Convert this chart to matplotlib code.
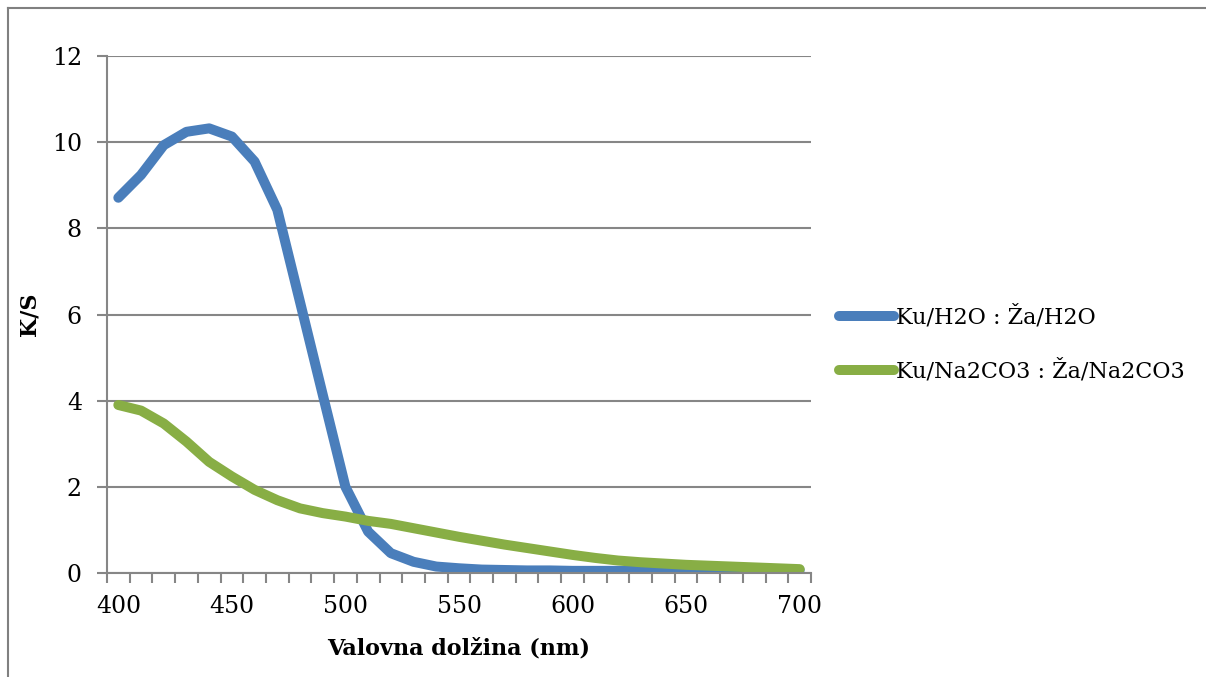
import numpy as np
import matplotlib.pyplot as plt
from matplotlib.lines import Line2D

plt.rcParams['font.family'] = ['DejaVu Serif']

# wavelengths 400..700 nm, step 10 (category axis, as in Excel)
wavelength = [400, 410, 420, 430, 440, 450, 460, 470, 480, 490, 500,
              510, 520, 530, 540, 550, 560, 570, 580, 590, 600,
              610, 620, 630, 640, 650, 660, 670, 680, 690, 700]
ks_h2o = [8.71, 9.24, 9.93, 10.24, 10.32, 10.13, 9.55, 8.43, 6.29, 4.14, 2.00,
          0.96, 0.46, 0.26, 0.15, 0.11, 0.08, 0.07, 0.06, 0.06, 0.05,
          0.05, 0.05, 0.05, 0.05, 0.05, 0.05, 0.05, 0.05, 0.06, 0.07]
ks_na2co3 = [3.90, 3.77, 3.47, 3.05, 2.58, 2.24, 1.93, 1.69, 1.50, 1.39, 1.31,
             1.21, 1.14, 1.04, 0.94, 0.84, 0.75, 0.66, 0.58, 0.50, 0.42,
             0.35, 0.29, 0.25, 0.22, 0.19, 0.17, 0.15, 0.13, 0.11, 0.09]
labels = ["Ku/H2O : Ža/H2O", "Ku/Na2CO3 : Ža/Na2CO3"]
yticks = [0, 2, 4, 6, 8, 10, 12]

BLUE, GREEN, GRID = "#4A7EBB", "#88AE45", "#868686"
FS = 16

fig = plt.figure(figsize=(12.06, 6.77), dpi=100)
ax = fig.add_axes([0.0887, 0.1536, 0.5838, 0.7637])

x = np.arange(len(wavelength))
ax.plot(x, ks_h2o, color=BLUE, lw=7.2, solid_capstyle="round", solid_joinstyle="round", label=labels[0])
ax.plot(x, ks_na2co3, color=GREEN, lw=7.2, solid_capstyle="round", solid_joinstyle="round", label=labels[1])

ax.set_xlim(-0.5, len(wavelength) - 0.5)
ax.set_ylim(0, 12)
ax.set_yticks(yticks)
ax.set_xticks(x[::5])
ax.set_xticklabels([str(w) for w in wavelength[::5]])
ax.set_xticks(np.arange(-0.5, len(wavelength)), minor=True)
ax.tick_params(axis="x", which="major", length=0, pad=16, labelsize=17)
ax.tick_params(axis="x", which="minor", length=7, width=1.5, color=GRID, direction="out")
ax.tick_params(axis="y", length=7, width=1.5, color=GRID, pad=11, labelsize=17)
ax.grid(axis="y", color=GRID, lw=1.5)
ax.set_axisbelow(True)
for s in ["top", "right"]:
    ax.spines[s].set_visible(False)
for s in ["left", "bottom"]:
    ax.spines[s].set_color(GRID)
    ax.spines[s].set_linewidth(1.5)

ax.set_xlabel("Valovna dolžina (nm)", fontsize=FS, fontweight="bold", labelpad=14)
ax.set_ylabel("K/S", fontsize=FS, fontweight="bold", labelpad=8)

ax.legend(loc="center left", bbox_to_anchor=(0.688, 0.492), bbox_transform=fig.transFigure,
          frameon=False, fontsize=FS, handlelength=2.5, handletextpad=0.1,
          labelspacing=1.35, borderaxespad=0)

# chart area border (left and top visible)
fig.add_artist(Line2D([0.0066, 0.0066], [0, 0.988], transform=fig.transFigure, color="#808080", lw=1.5))
fig.add_artist(Line2D([0.0066, 1.0], [0.988, 0.988], transform=fig.transFigure, color="#808080", lw=1.5))

fig.savefig("out.png", dpi=100)
